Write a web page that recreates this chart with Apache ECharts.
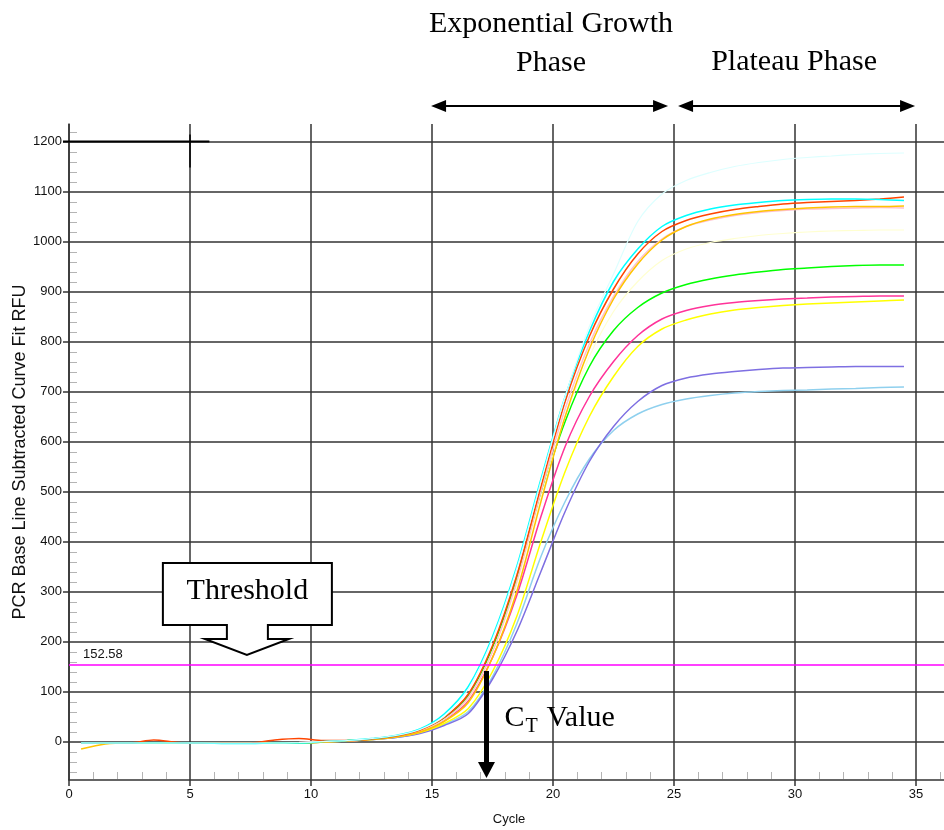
<!DOCTYPE html>
<html><head><meta charset="utf-8">
<script src="https://cdn.jsdelivr.net/npm/echarts@6/dist/echarts.min.js"></script>
<style>html,body{margin:0;padding:0;background:#fff}#c{width:944px;height:830px}</style>
</head><body><div id="c"></div>
<script>
// ---- data ----
const cycles = [0.5,1.5,2.5,3.5,4.5,5.5,6.5,7.5,8.5,9.5,10.5,11.5,12.5,13.5,14.5,15.5,16.5,17.5,18.5,19.5,20.5,21.5,22.5,23.5,24.5,25.5,26.5,27.5,28.5,29.5,30.5,31.5,32.5,33.5,34.5];
const xTickLabels = [0,5,10,15,20,25,30,35];
const yTickLabels = [0,100,200,300,400,500,600,700,800,900,1000,1100,1200];
const thresholdValue = 152.58;
const ctCycle = 17.25;

const skyblue     = [-3,-3,-3,-3,-3,-3,-3,-3,-3,-3,-1,1, 4,8,17,34,60,130,235,370,480,565,622,655,674,685,692,697,700,702,703,705,706,708,709];
const purple      = [-3,-3,-3,-3,-3,-3,-3,-3,-3,-3,-1,1, 4,8,16,32,56,125,220,340,460,560,630,680,712,727,735,740,744,747,748,749,750,750,750];
const yellow      = [-3,-3,-3,-3,-3,-3,-3,-3,-3,-3,-1,1, 4,9,18,36,66,140,250,400,540,650,730,790,825,843,855,863,868,872,875,877,879,881,883];
const deeppink    = [-3,-3,-3,-3,-3,-3,-3,-3,-3,-3,0,1, 5,10,20,42,82,168,292,450,590,690,760,812,845,862,872,878,882,885,887,889,890,891,891];
const green       = [-3,-3,-3,-3,-3,-3,-3,-3,-3,-3,0,2, 5,11,22,46,92,188,325,495,640,750,822,868,897,914,925,933,939,944,947,950,952,953,953];
const lightyellow = [-3,-3,-3,-3,-3,-3,-3,-3,-3,-3,0,1, 5,10,21,44,85,180,315,490,650,770,860,920,962,985,998,1006,1012,1016,1019,1021,1022,1023,1023];
const pink        = [-3,-3,-3,-3,-3,-3,-3,-3,-3,-2,0,1, 5,10,21,44,88,180,320,500,665,795,890,960,1005,1030,1043,1052,1058,1062,1065,1066,1067,1068,1067];
const gold        = [-15,-5,-3,-3,-3,-3,-3,-3,-3,-3,-1,1, 4,9,19,40,78,168,300,480,650,785,885,955,1003,1030,1045,1054,1060,1064,1067,1069,1070,1070,1071];
const orangered   = [-3,-3,-3,3,-2,-3,-3,-3,3,6,2,2, 5,11,23,48,95,192,332,510,680,810,905,975,1020,1042,1055,1064,1070,1075,1078,1080,1082,1085,1089];
const cyan        = [-3,-3,-3,-3,-3,-3,-4,-4,-3,-3,0,2, 6,12,25,55,110,210,350,525,690,820,920,985,1030,1052,1065,1073,1078,1082,1084,1085,1085,1084,1082];
const lightcyan   = [-3,-3,-3,-3,-3,-3,-3,-3,-3,-2,0,2, 6,12,24,50,105,205,345,520,690,830,935,1040,1095,1122,1138,1150,1158,1164,1168,1171,1174,1176,1177];

const seriesNames  = ['skyblue','purple','yellow','deeppink','green','lightyellow','pink','gold','orangered','cyan','lightcyan'];
const seriesValues = [skyblue,purple,yellow,deeppink,green,lightyellow,pink,gold,orangered,cyan,lightcyan];
const seriesColors = ['#8FD0EE','#7E6FE2','#FFFF00','#FF3399','#00FF00','#FFFFD0','#FFC0CB','#FFC400','#FF4500','#00FFFF','#DDFFFF'];

// ---- chart ----
const SANS = 'Liberation Sans, Arial, sans-serif';
const SERIF = 'Liberation Serif, Times New Roman, serif';
const GRID = '#333';

const xMinor = [];
for (let i = 1; i <= 36; i++) if (i % 5) xMinor.push(i);
const yMinor = [];
for (let v = -60; v <= 1220; v += 20) if (v % 100) yMinor.push(v);

const chart = echarts.init(document.getElementById('c'), null, {renderer: 'canvas'});

const series = seriesNames.map((n, k) => ({
  name: n,
  type: 'line',
  data: cycles.map((c, i) => [c, seriesValues[k][i]]),
  showSymbol: false,
  smooth: 0.3,
  lineStyle: {color: seriesColors[k], width: (n === 'lightcyan' || n === 'lightyellow') ? 1.2 : 1.5},
  itemStyle: {color: seriesColors[k]},
  z: 3
}));
series.push({
  name: 'threshold', type: 'line', data: [], z: 4,
  markLine: {
    silent: true, symbol: 'none', animation: false,
    label: {show: false},
    lineStyle: {color: '#FF00FF', width: 1.5, type: 'solid'},
    data: [{yAxis: thresholdValue}]
  }
});

const option = {
  animation: false,
  backgroundColor: '#fff',
  grid: {left: 69, top: 124, width: 880, height: 656, containLabel: false, outerBoundsMode: 'none'},
  xAxis: {
    type: 'value', min: 0, max: 36.36, interval: 5, position: 'bottom',
    name: 'Cycle', nameLocation: 'middle', nameGap: 33, nameMoveOverlap: false,
    nameTextStyle: {fontFamily: SANS, fontSize: 13, color: '#111'},
    axisLine: {show: true, onZero: false, lineStyle: {color: GRID, width: 1.5}},
    axisTick: {show: true, inside: false, length: 6, lineStyle: {color: GRID, width: 1.5}, customValues: xTickLabels},
    axisLabel: {fontFamily: SANS, fontSize: 13, color: '#111', margin: 8, customValues: xTickLabels, formatter: v => String(v)},
    splitLine: {show: true, lineStyle: {color: GRID, width: 1.5}}
  },
  yAxis: {
    type: 'value', min: -77, max: 1235, interval: 100, position: 'left',
    name: 'PCR Base Line Subtracted Curve Fit RFU', nameLocation: 'middle', nameGap: 40, nameMoveOverlap: false,
    nameTextStyle: {fontFamily: SANS, fontSize: 18, color: '#111'},
    axisLine: {show: true, onZero: false, lineStyle: {color: GRID, width: 1.5}},
    axisTick: {show: true, inside: false, length: 6, lineStyle: {color: GRID, width: 1.5}, customValues: yTickLabels},
    axisLabel: {fontFamily: SANS, fontSize: 13, color: '#111', margin: 7, customValues: yTickLabels, formatter: v => String(v)},
    splitLine: {show: true, lineStyle: {color: GRID, width: 1.5}}
  },
  series: series
};
chart.setOption(option);

// ---- annotations anchored to data coordinates ----
const px = (x, y) => chart.convertToPixel({xAxisIndex: 0, yAxisIndex: 0}, [x, y]);
const g = [];

// minor ticks (inside)
const axisX = px(0, 0)[0], axisY = px(0, -77)[1];
yMinor.forEach(v => {
  const y = Math.round(px(0, v)[1]) + 0.5;
  g.push({type: 'line', z: 2, silent: true, shape: {x1: axisX + 1, y1: y, x2: axisX + 8, y2: y}, style: {stroke: '#b4b4b4', lineWidth: 1}});
});
xMinor.forEach(c => {
  const x = Math.round(px(c, 0)[0]) + 0.5;
  g.push({type: 'line', z: 2, silent: true, shape: {x1: x, y1: axisY - 1, x2: x, y2: axisY - 8}, style: {stroke: '#b4b4b4', lineWidth: 1}});
});

const p15 = px(15, 0)[0], p25 = px(25, 0)[0], p35 = px(35, 0)[0];
const arrowY = 106;
function dblArrow(x1, x2, y) {
  const h = 15, w = 6;
  return [
    {type: 'line', shape: {x1: x1 + h - 2, y1: y, x2: x2 - h + 2, y2: y}, style: {stroke: '#000', lineWidth: 2}},
    {type: 'polygon', shape: {points: [[x1, y], [x1 + h, y - w], [x1 + h, y + w]]}, style: {fill: '#000'}},
    {type: 'polygon', shape: {points: [[x2, y], [x2 - h, y - w], [x2 - h, y + w]]}, style: {fill: '#000'}}
  ];
}
g.push(...dblArrow(p15 - 1, p25 - 6, arrowY));
g.push(...dblArrow(p25 + 4, p35 - 1, arrowY));
const expC = (p15 + p25) / 2 - 2;
g.push({type: 'text', style: {text: 'Exponential Growth', x: expC, y: 24, align: 'center', verticalAlign: 'middle', font: '30px ' + SERIF, fill: '#000'}});
g.push({type: 'text', style: {text: 'Phase', x: expC, y: 63, align: 'center', verticalAlign: 'middle', font: '30px ' + SERIF, fill: '#000'}});
g.push({type: 'text', style: {text: 'Plateau Phase', x: (p25 + p35) / 2 - 1, y: 62, align: 'center', verticalAlign: 'middle', font: '30px ' + SERIF, fill: '#000'}});

// Threshold callout
const tip = px(7.35, 173);
const tx = tip[0], ty = tip[1];
const L = tx - 84, R = tx + 85, T = ty - 92, B = ty - 30;
g.push({type: 'polygon', shape: {points: [[L, T], [R, T], [R, B], [tx + 21, B], [tx + 21, ty - 16], [tx + 42, ty - 16], [tx, ty], [tx - 42, ty - 16], [tx - 20, ty - 16], [tx - 20, B], [L, B]]},
  style: {fill: '#fff', stroke: '#000', lineWidth: 2}, z: 10});
g.push({type: 'text', z: 11, style: {text: 'Threshold', x: (L + R) / 2, y: (T + B) / 2 - 3, align: 'center', verticalAlign: 'middle', font: '30px ' + SERIF, fill: '#000'}});

// threshold value label
const thr = px(0, thresholdValue);
g.push({type: 'text', z: 11, style: {text: String(thresholdValue), x: thr[0] + 14, y: thr[1] - 11, align: 'left', verticalAlign: 'middle', font: '13px ' + SANS, fill: '#111'}});

// CT arrow
const ctTop = px(ctCycle, 141), ctBot = px(ctCycle, -73);
const cx = ctTop[0];
g.push({type: 'rect', z: 11, shape: {x: cx - 2.5, y: ctTop[1], width: 5, height: ctBot[1] - ctTop[1] - 15}, style: {fill: '#000'}});
g.push({type: 'polygon', z: 11, shape: {points: [[cx - 8.5, ctBot[1] - 16], [cx + 8.5, ctBot[1] - 16], [cx, ctBot[1]]]}, style: {fill: '#000'}});
g.push({type: 'text', z: 11, style: {text: 'C', x: cx + 18, y: 718, align: 'left', verticalAlign: 'middle', font: '30px ' + SERIF, fill: '#000'}});
g.push({type: 'text', z: 11, style: {text: 'T', x: cx + 39, y: 727, align: 'left', verticalAlign: 'middle', font: '20px ' + SERIF, fill: '#000'}});
g.push({type: 'text', z: 11, style: {text: 'Value', x: cx + 60, y: 718, align: 'left', verticalAlign: 'middle', font: '30px ' + SERIF, fill: '#000'}});

// cursor marks at top-left
const c1 = px(0, 1200), c2 = px(5.8, 1200), c3 = px(5, 1214), c4 = px(5, 1148);
g.push({type: 'line', z: 5, shape: {x1: c1[0] - 6, y1: c1[1], x2: c2[0], y2: c2[1]}, style: {stroke: '#000', lineWidth: 2}});
g.push({type: 'line', z: 5, shape: {x1: c3[0], y1: c3[1], x2: c4[0], y2: c4[1]}, style: {stroke: '#000', lineWidth: 1.5}});

chart.setOption({graphic: g});
</script>
</body></html>
